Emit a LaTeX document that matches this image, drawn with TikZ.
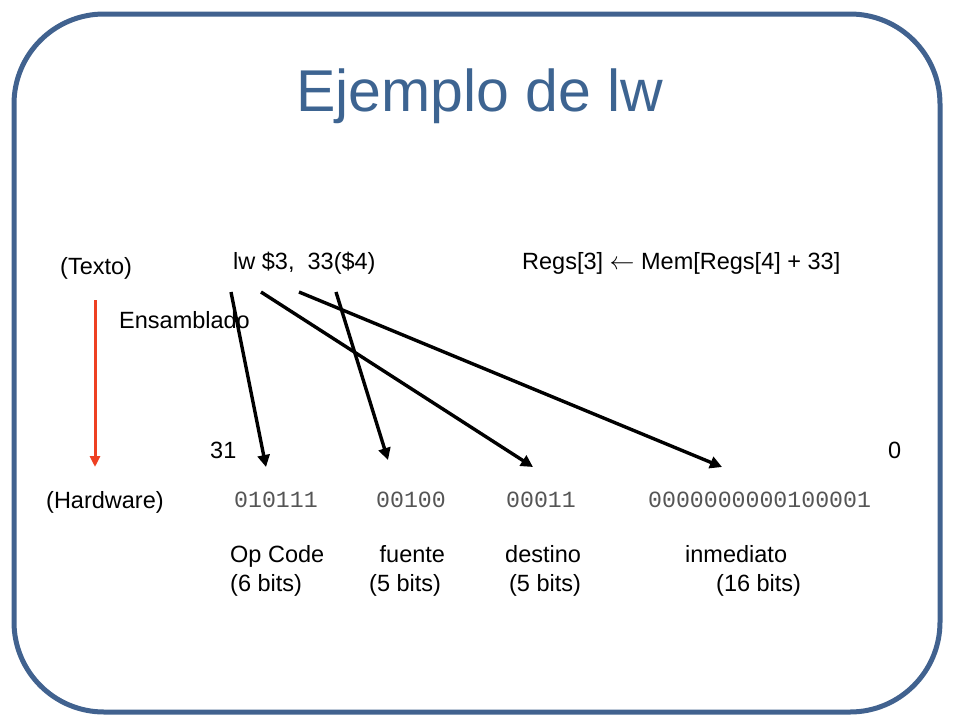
\documentclass[tikz,border=0pt]{standalone}
\usepackage{fontspec}
\setmainfont{Liberation Sans}
\setmonofont{Liberation Mono}
\usetikzlibrary{arrows.meta}
\definecolor{frame}{HTML}{41628F}
\definecolor{titlec}{HTML}{3D6491}
\definecolor{redc}{HTML}{EE4022}
\definecolor{bitc}{HTML}{555555}
\begin{document}
\begin{tikzpicture}[x=1pt,y=-1pt,
  txt/.style={font=\fontsize{23.5}{29}\selectfont,inner sep=0pt,anchor=base west},
  bits/.style={font=\ttfamily\fontsize{23.2}{28}\selectfont,text=bitc,inner sep=0pt,anchor=base west},
  arr/.style={line width=3.4pt,-{Triangle[length=12pt,width=12pt]}}]
\useasboundingbox (0,0) rectangle (960,720);
\draw[frame,line width=5pt,rounded corners=90pt] (14,14) rectangle (940,712);
\node[text=titlec,font=\fontsize{59}{64}\selectfont,inner sep=0pt,anchor=base] (title) at (480,111) {Ejemplo de lw};
\node[txt] (texto) at (60,274) {(Texto)};
\node[txt] (lw) at (233,269) {lw \$3,\ \ 33(\$4)};
\node[txt] (regs) at (522,269) {Regs[3] $\leftarrow$ Mem[Regs[4] + 33]};
\node[txt] (ens) at (119,328) {Ensamblado};
\node[txt] (n31) at (210,458) {31};
\node[txt] (n0) at (888,458) {0};
\node[txt] (hw) at (46,508) {(Hardware)};
\node[bits] (b1) at (234,507) {010111};
\node[bits] (b2) at (376,507) {00100};
\node[bits] (b3) at (506,507) {00011};
\node[bits] (b4) at (648,507) {0000000000100001};
\node[txt,align=left,anchor=north west] (op) at (230,545) {Op Code\\(6 bits)};
\node[txt,align=left,anchor=north west] (fu) at (369,545) {\ \,fuente\\(5 bits)};
\node[txt,align=left,anchor=north west] (de) at (505,545) {destino\\\,(5 bits)};
\node[txt,align=left,anchor=north west] (in) at (685,545) {inmediato\\\hspace*{31pt}(16 bits)};
\coordinate (s1) at (231,292); \coordinate (e1) at (266,467);
\coordinate (s2) at (336,292); \coordinate (e2) at (388,460);
\coordinate (s3) at (261,292); \coordinate (e3) at (533,467);
\coordinate (s4) at (299,292); \coordinate (e4) at (722,467);
\coordinate (r1) at (95,300); \coordinate (r2) at (95,467);
\draw[arr] (s1) -- (e1);
\draw[arr] (s2) -- (e2);
\draw[arr] (s3) -- (e3);
\draw[arr] (s4) -- (e4);
\draw[redc,line width=3pt,-{Triangle[length=11pt,width=10pt]}] (r1) -- (r2);
\end{tikzpicture}
\end{document}
